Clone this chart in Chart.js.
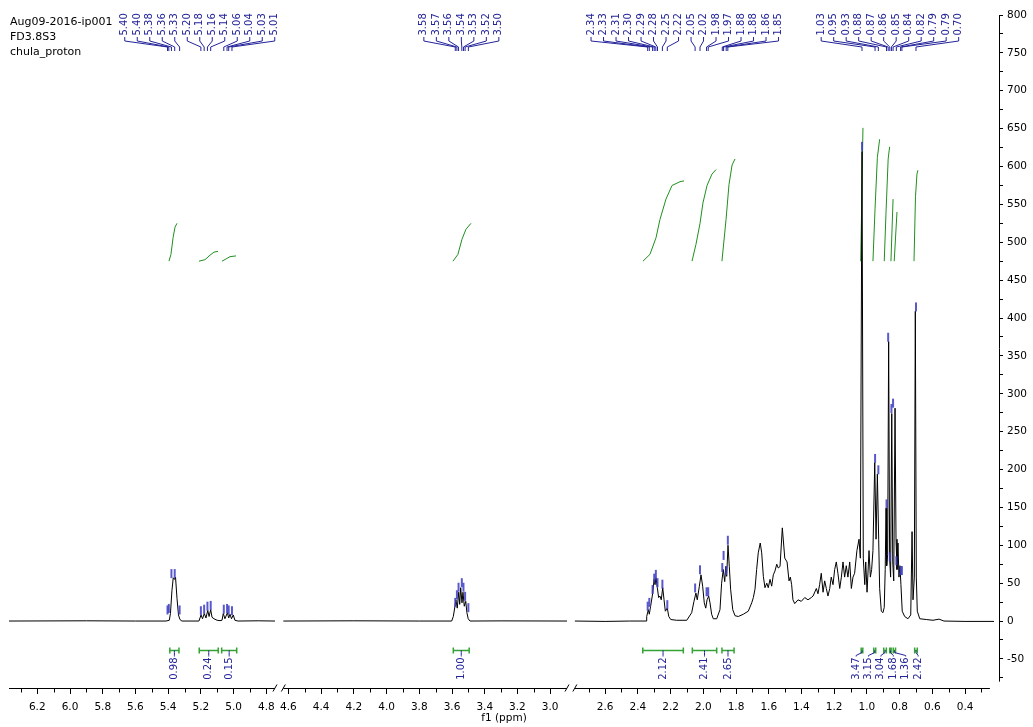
<!DOCTYPE html>
<html>
<head>
<meta charset="utf-8">
<title>chula_proton</title>
<script src="https://cdn.jsdelivr.net/npm/chart.js@4.4.1/dist/chart.umd.min.js"></script>
<style>
  html, body { margin: 0; padding: 0; background: #fff; }
  canvas { display: block; }
</style>
</head>
<body>
<canvas id="nmrChart" width="1033" height="727"></canvas>
<script>
// header text (top left)
const headerLines = ['Aug09-2016-ip001', 'FD3.8S3', 'chula_proton'];

// x tick labels (ppm) for the three pieces of the broken axis
const ticksSeg1 = [6.2, 6.0, 5.8, 5.6, 5.4, 5.2, 5.0, 4.8];
const ticksSeg2 = [4.6, 4.4, 4.2, 4.0, 3.8, 3.6, 3.4, 3.2, 3.0];
const ticksSeg3 = [2.6, 2.4, 2.2, 2.0, 1.8, 1.6, 1.4, 1.2, 1.0, 0.8, 0.6, 0.4];
const minorSeg1 = [6.3, 6.1, 5.9, 5.7, 5.5, 5.3, 5.1, 4.9];
const minorSeg2 = [4.5, 4.3, 4.1, 3.9, 3.7, 3.5, 3.3, 3.1];
const minorSeg3 = [2.7, 2.5, 2.3, 2.1, 1.9, 1.7, 1.5, 1.3, 1.1, 0.9, 0.7, 0.5, 0.3];

// spectrum, piece 1 (6.4 - 4.75 ppm)
const seg1Ppm = [6.378, 5.90, 5.60, 5.413, 5.393, 5.386, 5.377, 5.369, 5.361, 5.355, 5.346, 5.337, 5.328, 5.316,
  5.212, 5.199, 5.190, 5.179, 5.169, 5.158, 5.150, 5.140, 5.132, 5.120, 5.101, 5.083,
  5.071, 5.063, 5.053, 5.038, 5.030, 5.022, 5.013, 5.002, 4.992, 4.973, 4.850, 4.747];
const seg1Int = [0, 0.3, 0, 0, 1, 10, 40, 57, 55, 58, 30, 8, 2, 0,
  0, 8, 3, 10, 4, 14, 6, 15, 5, 3, 1, 0.5,
  1, 10, 3, 11, 4, 9, 3, 8, 1, 0, 0.3, 0];

// spectrum, piece 2 (4.63 - 2.9 ppm)
const seg2Ppm = [4.631, 4.20, 3.80, 3.602, 3.592, 3.582, 3.576, 3.568, 3.559, 3.553, 3.547, 3.539, 3.533,
  3.525, 3.516, 3.509, 3.501, 3.490, 3.30, 2.897];
const seg2Int = [0, 0.3, 0, 0, 6, 19.5, 28, 17, 38, 22, 44, 24, 38, 19.5, 26, 11, 3, 0, 0.2, 0];

// spectrum, piece 3 (2.79 - 0.22 ppm)
const seg3Ppm = [2.785, 2.60, 2.45, 2.35, 2.346, 2.336, 2.330, 2.322, 2.309, 2.301,
  2.295, 2.289, 2.281, 2.273, 2.265, 2.257, 2.248, 2.240, 2.232, 2.220,
  2.211, 2.199, 2.163, 2.101, 2.092, 2.071, 2.057, 2.045, 2.037, 2.024,
  2.014, 2.004, 1.994, 1.985, 1.977, 1.967, 1.959, 1.949, 1.939, 1.918,
  1.898, 1.888, 1.878, 1.869, 1.863, 1.857, 1.849, 1.841, 1.833, 1.820,
  1.806, 1.786, 1.755, 1.725, 1.704, 1.694, 1.684, 1.674, 1.664, 1.652,
  1.643, 1.633, 1.623, 1.612, 1.603, 1.592, 1.582, 1.572, 1.562, 1.551,
  1.542, 1.531, 1.517, 1.502, 1.488, 1.476, 1.468, 1.460, 1.452, 1.441,
  1.421, 1.401, 1.380, 1.360, 1.340, 1.329, 1.309, 1.299, 1.289, 1.279,
  1.268, 1.258, 1.248, 1.238, 1.227, 1.218, 1.207, 1.197, 1.187, 1.177,
  1.166, 1.156, 1.146, 1.136, 1.126, 1.116, 1.105, 1.095, 1.085, 1.075,
  1.061, 1.048, 1.040, 1.030, 1.022, 1.013, 1.007, 0.999, 0.987, 0.979,
  0.971, 0.963, 0.952, 0.944, 0.936, 0.928, 0.922, 0.912, 0.902, 0.894,
  0.888, 0.883, 0.879, 0.873, 0.867, 0.861, 0.855, 0.848, 0.842, 0.836,
  0.828, 0.822, 0.816, 0.810, 0.804, 0.798, 0.792, 0.784, 0.769, 0.749,
  0.732, 0.724, 0.718, 0.710, 0.704, 0.698, 0.692, 0.677, 0.637, 0.596,
  0.559, 0.529, 0.40, 0.223];
const seg3Int = [0, -0.5, 0, 0, 6, 15, 9, 19.5, 37, 55,
  48, 57, 44, 31, 33, 28, 44, 28, 13, 17,
  6, 2, 1, 1, 4, 11, 26, 37, 28, 46,
  61, 46, 24, 17, 28, 33, 24, 9, 3, 3,
  15, 50, 68, 52, 72, 59, 100, 72, 42, 15,
  7, 6, 9, 13, 24, 31, 42, 68, 90, 103,
  90, 59, 44, 50, 44, 55, 46, 61, 66, 75,
  70, 72, 123, 83, 78, 53, 58, 48, 28, 23,
  28, 26, 31, 28, 31, 33, 43, 36, 48, 63,
  38, 53, 43, 33, 43, 58, 48, 68, 78, 63,
  43, 58, 78, 58, 73, 58, 78, 43, 58, 63,
  93, 108, 83, 620, 83, 48, 78, 38, 93, 58,
  68, 93, 209, 108, 194, 108, 43, 13, 11, 18,
  68, 149, 73, 88, 369, 83, 58, 274, 78, 53,
  281, 108, 68, 103, 58, 73, 48, 13, 6, 3,
  8, 118, 28, 58, 409, 58, 13, 3, 2, 1,
  2.5, 0, -0.5, -0.5];

// picked peaks (ppm) and the height of their marks
const peakPpm = [5.404, 5.396, 5.38, 5.36, 5.33, 5.20, 5.18, 5.16, 5.14, 5.06, 5.04, 5.03, 5.01,
  3.58, 3.57, 3.56, 3.54, 3.53, 3.52, 3.50,
  2.34, 2.33, 2.31, 2.30, 2.29, 2.28, 2.25, 2.22, 2.05, 2.02, 1.98, 1.97, 1.884, 1.876, 1.86, 1.85,
  1.03, 0.95, 0.93, 0.88, 0.87, 0.86, 0.85, 0.84, 0.82, 0.794, 0.786, 0.70];
const peakHeight = [10, 12, 58, 58, 10, 9, 11, 15, 16, 11, 12, 10, 9,
  20, 30, 40, 46, 40, 28, 13,
  15, 20, 37, 52, 57, 46, 44, 17, 39, 63, 34, 34, 66, 82, 62, 102,
  622, 210, 195, 150, 370, 80, 276, 283, 75, 62, 62, 410];

// integrals: range and value
const intFrom = [5.390, 5.210, 5.073, 3.592, 2.370, 2.067, 1.886, 1.035, 0.958, 0.897, 0.860, 0.839, 0.708];
const intTo = [5.334, 5.094, 4.981, 3.495, 2.122, 1.918, 1.812, 1.025, 0.946, 0.881, 0.852, 0.825, 0.692];
const intValue = [0.98, 0.24, 0.15, 1.00, 2.12, 2.41, 2.65, 3.47, 3.15, 3.04, 1.68, 1.36, 2.42];

// integral curves (green)
const intCurvePpm = [
  [5.395, 5.383, 5.370, 5.358, 5.346],
  [5.212, 5.175, 5.144, 5.120, 5.095],
  [5.071, 5.046, 5.022, 4.985],
  [3.594, 3.564, 3.539, 3.515, 3.484],
  [2.369, 2.326, 2.289, 2.265, 2.228, 2.191, 2.142, 2.118],
  [2.069, 2.045, 2.020, 2.002, 1.977, 1.947, 1.922],
  [1.886, 1.861, 1.843, 1.824, 1.806],
  [1.038, 1.031, 1.024],
  [0.963, 0.950, 0.936, 0.922],
  [0.894, 0.883, 0.870, 0.861],
  [0.853, 0.840],
  [0.833, 0.816],
  [0.712, 0.703, 0.694, 0.688]
];
const intCurveVal = [
  [475, 484, 506, 520, 525],
  [475, 477, 483, 487, 488],
  [475, 478, 481, 482],
  [475, 484, 504, 517, 525],
  [475, 484, 506, 530, 557, 575, 580, 581],
  [475, 497, 525, 552, 575, 590, 596],
  [475, 530, 576, 602, 610],
  [475, 560, 651],
  [475, 545, 612, 636],
  [475, 540, 610, 626],
  [475, 557],
  [475, 540],
  [475, 560, 590, 595]
];

// ---- broken axis: each piece is shifted so the pieces sit side by side ----
const segShift = [0.129, 0.064, 0];
const axisPieces = [[6.40, 4.747], [4.631, 2.897], [2.785, 0.248]];

function segOf(p) {
  return p > 4.69 ? 0 : (p > 2.85 ? 1 : 2);
}
function toV(p) {
  return p - segShift[segOf(p)];
}
function points(ppm, vals) {
  return ppm.map((p, i) => ({ x: toV(p), y: vals[i] }));
}

// spread labels so they keep a minimum gap, centred on their targets
function spread(targets, gap) {
  const groups = targets.map(t => ({ n: 1, sum: t }));
  const startOf = g => g.sum / g.n - (g.n - 1) * gap / 2;
  let i = 0;
  while (i < groups.length - 1) {
    const a = groups[i], b = groups[i + 1];
    if (startOf(a) + a.n * gap > startOf(b)) {
      groups.splice(i, 2, { n: a.n + b.n, sum: a.sum + b.sum });
      i = Math.max(0, i - 1);
    } else {
      i++;
    }
  }
  const out = [];
  groups.forEach(g => {
    const s = startOf(g);
    for (let k = 0; k < g.n; k++) out.push(s + k * gap);
  });
  return out;
}

const FONT = 'DejaVu Sans';
const LABEL_FONT = '10px "DejaVu Sans"';
const BLUE = '#23239a';
const GREEN = '#1f8f1f';

const decor = {
  id: 'decor',
  afterDatasetsDraw(chart) {
    const ctx = chart.ctx;
    const xs = chart.scales.x, ys = chart.scales.y, area = chart.chartArea;
    const px = p => xs.getPixelForValue(toV(p));
    ctx.save();

    // x axis line in three pieces with break marks
    ctx.strokeStyle = '#000';
    ctx.lineWidth = 1;
    const yb = Math.round(area.bottom) + 0.5;
    axisPieces.forEach((piece, s) => {
      const x1 = Math.max(area.left, xs.getPixelForValue(piece[0] - segShift[s]));
      const x2 = xs.getPixelForValue(piece[1] - segShift[s]);
      ctx.beginPath();
      ctx.moveTo(x1, yb);
      ctx.lineTo(x2, yb);
      ctx.stroke();
      if (s > 0) {
        ctx.beginPath(); ctx.moveTo(x1 - 2, yb + 3); ctx.lineTo(x1 + 2, yb - 4); ctx.stroke();
      }
      if (s < 2) {
        ctx.beginPath(); ctx.moveTo(x2 - 2, yb + 3); ctx.lineTo(x2 + 2, yb - 4); ctx.stroke();
      }
    });
    // minor x ticks
    [minorSeg1, minorSeg2, minorSeg3].forEach((arr, s) => {
      arr.forEach(p => {
        const x = Math.round(xs.getPixelForValue(p - segShift[s])) + 0.5;
        ctx.beginPath(); ctx.moveTo(x, yb); ctx.lineTo(x, yb + 4); ctx.stroke();
      });
    });
    // y axis line
    const xa = Math.round(area.right) + 0.5;
    ctx.beginPath();
    ctx.moveTo(xa, ys.getPixelForValue(800));
    ctx.lineTo(xa, ys.getPixelForValue(-80));
    ctx.stroke();

    // header text
    ctx.fillStyle = '#000';
    ctx.font = '11px "' + FONT + '"';
    ctx.textAlign = 'left';
    ctx.textBaseline = 'alphabetic';
    headerLines.forEach((t, i) => ctx.fillText(t, 10, 25 + i * 15));

    // peak marks
    const peakX = peakPpm.map(px);
    ctx.strokeStyle = 'rgba(60, 60, 195, 0.85)';
    ctx.lineWidth = 2;
    peakX.forEach((x, i) => {
      const y = ys.getPixelForValue(peakHeight[i]);
      ctx.beginPath(); ctx.moveTo(x, y + 1); ctx.lineTo(x, y - 8); ctx.stroke();
    });

    // peak labels with their connecting tree
    const labelX = spread(peakX, 12.5);
    ctx.strokeStyle = BLUE;
    ctx.lineWidth = 1;
    ctx.fillStyle = BLUE;
    ctx.font = LABEL_FONT;
    peakX.forEach((x, i) => {
      const lx = labelX[i];
      ctx.beginPath();
      ctx.moveTo(lx, 37); ctx.lineTo(lx, 41); ctx.lineTo(x, 47); ctx.lineTo(x, 51);
      ctx.stroke();
      ctx.save();
      ctx.translate(lx, 35.5);
      ctx.rotate(-Math.PI / 2);
      ctx.textAlign = 'left';
      ctx.textBaseline = 'middle';
      ctx.fillText(peakPpm[i].toFixed(2), 0, 0);
      ctx.restore();
    });

    // integral brackets and values
    const yi = Math.round(ys.getPixelForValue(-38)) + 0.5;
    const centers = intFrom.map((f, k) => (px(f) + px(intTo[k])) / 2);
    const intLabelX = spread(centers, 12.4);
    intFrom.forEach((f, k) => {
      const x1 = px(f), x2 = px(intTo[k]);
      ctx.strokeStyle = '#34a334';
      ctx.lineWidth = 1.5;
      ctx.beginPath();
      ctx.moveTo(x1, yi); ctx.lineTo(x2, yi);
      ctx.moveTo(x1, yi - 3); ctx.lineTo(x1, yi + 3);
      ctx.moveTo(x2, yi - 3); ctx.lineTo(x2, yi + 3);
      ctx.stroke();
      const lx = intLabelX[k];
      ctx.strokeStyle = BLUE;
      ctx.lineWidth = 1;
      ctx.beginPath();
      ctx.moveTo(centers[k], yi); ctx.lineTo(centers[k], yi + 2);
      ctx.lineTo(lx, yi + 5); ctx.lineTo(lx, yi + 6);
      ctx.stroke();
      ctx.save();
      ctx.translate(lx, yi + 7);
      ctx.rotate(-Math.PI / 2);
      ctx.textAlign = 'right';
      ctx.textBaseline = 'middle';
      ctx.fillText(intValue[k].toFixed(2), 0, 0);
      ctx.restore();
    });

    ctx.restore();
  }
};

const datasets = [
  { data: points(seg1Ppm, seg1Int) },
  { data: points(seg2Ppm, seg2Int) },
  { data: points(seg3Ppm, seg3Int) }
].map(d => Object.assign(d, { borderColor: '#000', borderWidth: 1 }));

intCurvePpm.forEach((ppm, k) => {
  datasets.push({ data: points(ppm, intCurveVal[k]), borderColor: GREEN, borderWidth: 1 });
});

Chart.defaults.font.family = FONT;

new Chart(document.getElementById('nmrChart').getContext('2d'), {
  type: 'line',
  data: { datasets: datasets },
  options: {
    responsive: false,
    animation: false,
    events: [],
    layout: { padding: { left: 9, top: 15, right: 0, bottom: 0 } },
    elements: { point: { radius: 0 }, line: { tension: 0 } },
    plugins: { legend: { display: false }, tooltip: { enabled: false } },
    scales: {
      x: {
        type: 'linear',
        reverse: true,
        min: 0.1925,
        max: 6.2439,
        border: { display: false },
        grid: { drawOnChartArea: false, tickLength: 6, color: '#000' },
        ticks: {
          autoSkip: false,
          maxRotation: 0,
          padding: 7,
          color: '#000',
          font: { size: 10.5 },
          callback: function (value, index, ticks) { return ticks[index].lbl; }
        },
        title: {
          display: true, text: 'f1 (ppm)', color: '#000',
          font: { size: 10.5 }, padding: { top: 0, bottom: 2 }
        },
        afterBuildTicks: function (scale) {
          const list = [];
          [ticksSeg1, ticksSeg2, ticksSeg3].forEach((arr, s) => {
            arr.forEach(p => list.push({ value: p - segShift[s], lbl: p.toFixed(1) }));
          });
          list.sort((a, b) => a.value - b.value);
          scale.ticks = list;
        },
        afterFit: function (scale) { scale.height = 39; }
      },
      y: {
        position: 'right',
        min: -88.4,
        max: 800,
        border: { display: false },
        grid: { drawOnChartArea: false, tickLength: 4, color: '#000' },
        ticks: {
          autoSkip: false,
          padding: 4,
          color: '#000',
          font: { size: 10.5 },
          callback: function (value) { return value % 50 === 0 ? String(value) : ''; }
        },
        afterBuildTicks: function (scale) {
          const list = [];
          for (let v = -75; v <= 800; v += 25) list.push({ value: v });
          scale.ticks = list;
        },
        afterFit: function (scale) { scale.width = 34; }
      }
    }
  },
  plugins: [decor]
});
</script>
</body>
</html>
